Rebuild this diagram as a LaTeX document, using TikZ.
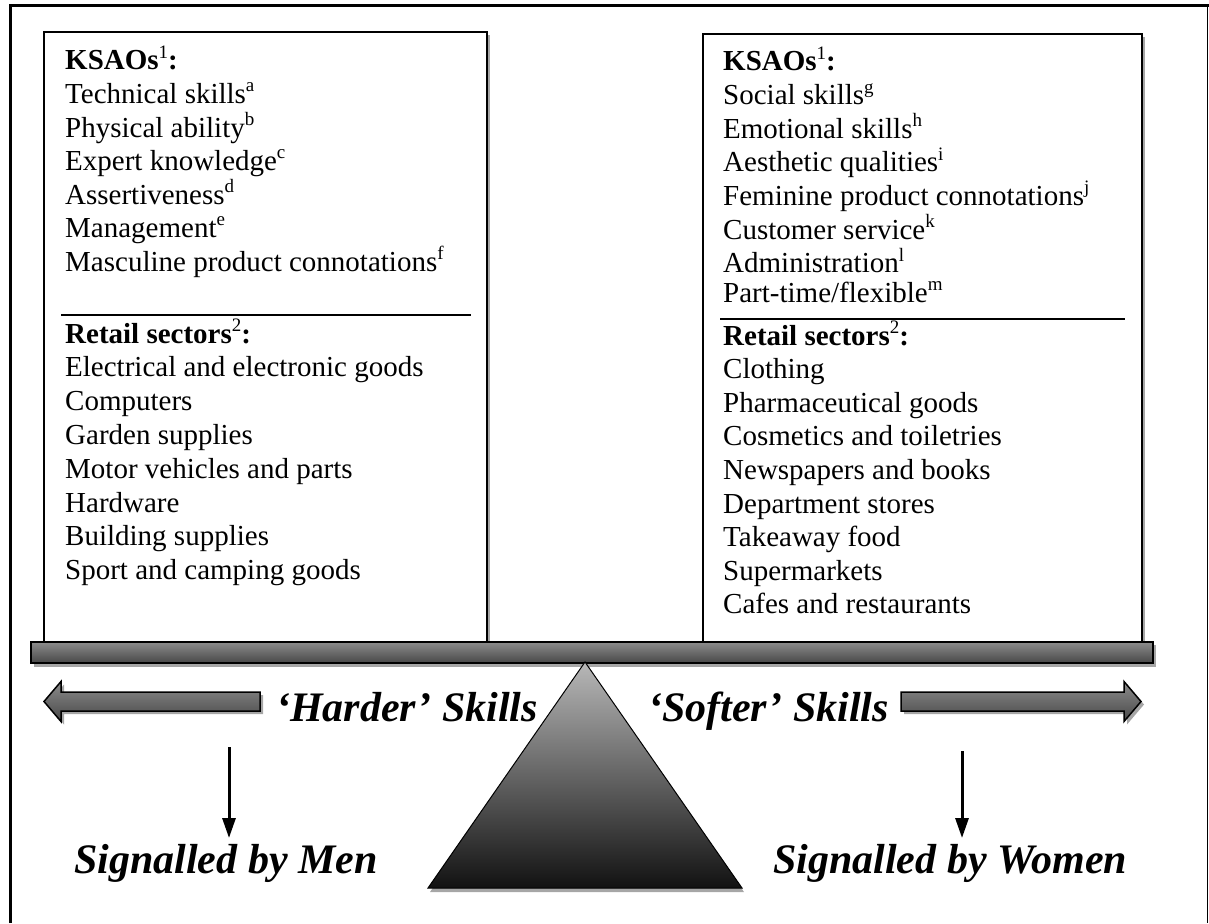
\documentclass[tikz,border=0pt]{standalone}
\usepackage{fontspec}
\setmainfont{Liberation Serif}
\usetikzlibrary{arrows.meta}

\newcommand{\supx}[1]{\raisebox{0.4em}{\fontsize{19}{19}\selectfont #1}}

\tikzset{
  listtext/.style={anchor=base west, inner sep=0pt, font=\fontsize{29}{34}\selectfont},
  skilllabel/.style={anchor=base west, inner sep=0pt, font=\fontsize{42}{48}\selectfont\bfseries\itshape},
  shadowgray/.style={fill=black!35, draw=none},
  barshade/.style={top color=black!45, middle color=black!12, bottom color=black!72, draw=black, line width=1.5pt},
  downarrow/.style={line width=3pt, -{Triangle[length=20pt,width=13pt]}},
}

\begin{document}
\begin{tikzpicture}[x=1pt,y=-1pt]
\useasboundingbox (0,0) rectangle (1209,923);
% frame
\draw[line width=3pt] (10,923) -- (10,6) -- (1209,6);
\draw[line width=1.5pt] (1207.5,6) -- (1207.5,923);

% boxes
\fill[shadowgray] (47,35) rectangle (490,642);
\draw[line width=1.5pt, fill=white] (44,32) rectangle (487,642);
\fill[shadowgray] (706,37) rectangle (1145,642);
\draw[line width=1.5pt, fill=white] (703,34) rectangle (1142,642);
\draw[line width=2pt] (61,315) -- (471,315);
\draw[line width=2pt] (720,319) -- (1125,319);

% left box
\node[listtext] (ksaoL) at (65,70) {\textbf{KSAOs}\supx{1}\textbf{:}};
\foreach \txt [count=\i] in {Technical skills\supx{a}, Physical ability\supx{b},
    Expert knowledge\supx{c}, Assertiveness\supx{d}, Management\supx{e},
    Masculine product connotations\supx{f}}
  \node[listtext] (hardk\i) at (65,{70+33.5*\i}) {\txt};
\node[listtext] (retailL) at (65,343) {\textbf{Retail sectors}\supx{2}\textbf{:}};
\foreach \txt [count=\i] in {Electrical and electronic goods, Computers, Garden supplies,
    Motor vehicles and parts, Hardware, Building supplies, Sport and camping goods}
  \node[listtext] (hards\i) at (65,{343+33.8*\i}) {\txt};

% right box
\node[listtext] (ksaoR) at (723,71) {\textbf{KSAOs}\supx{1}\textbf{:}};
\foreach \txt [count=\i] in {Social skills\supx{g}, Emotional skills\supx{h},
    Aesthetic qualities\supx{i}, Feminine product connotations\supx{j},
    Customer service\supx{k}, Administration\supx{l}}
  \node[listtext] (softk\i) at (723,{71+33.6*\i}) {\txt};
\node[listtext] (softk7) at (723,302) {Part-time/flexible\supx{m}};
\node[listtext] (retailR) at (723,345) {\textbf{Retail sectors}\supx{2}\textbf{:}};
\foreach \txt [count=\i] in {Clothing, Pharmaceutical goods, Cosmetics and toiletries,
    Newspapers and books, Department stores, Takeaway food, Supermarkets, Cafes and restaurants}
  \node[listtext] (softs\i) at (723,{345+33.6*\i}) {\txt};

% beam and pivot
\fill[shadowgray] (34,645) rectangle (1156,667);
\shade[barshade] (31,642) rectangle (1153,663);
\fill[shadowgray] (587,666) -- (744,892) -- (430,892) -- cycle;
\shade[top color=black!28, bottom color=black!93, draw=black, line width=1pt]
  (585,662) -- (742,888) -- (428,888) -- cycle;

% block arrows
\fill[shadowgray] (263,695) -- (64,695) -- (64,684.5) -- (47,704.5) -- (64,724.5) -- (64,714) -- (263,714) -- cycle;
\shade[barshade] (260,692) -- (61,692) -- (61,681.5) -- (44,701.5) -- (61,721.5) -- (61,711) -- (260,711) -- cycle;
\fill[shadowgray] (904,695) -- (1127,695) -- (1127,684.5) -- (1144,704.5) -- (1127,724.5) -- (1127,714) -- (904,714) -- cycle;
\shade[barshade] (901,692) -- (1124,692) -- (1124,681.5) -- (1141,701.5) -- (1124,721.5) -- (1124,711) -- (901,711) -- cycle;

\node[skilllabel] (harder) at (276,721) {‘Harder’ Skills};
\node[skilllabel] (softer) at (648,721) {‘Softer’ Skills};
\node[skilllabel] (men) at (74,873) {Signalled by Men};
\node[skilllabel] (women) at (773,873) {Signalled by Women};

\coordinate (mtop) at (229,747);
\coordinate (mbot) at (229,838);
\coordinate (wtop) at (962,751);
\coordinate (wbot) at (962,838);
\draw[downarrow] (mtop) -- (mbot);
\draw[downarrow] (wtop) -- (wbot);
\end{tikzpicture}
\end{document}
